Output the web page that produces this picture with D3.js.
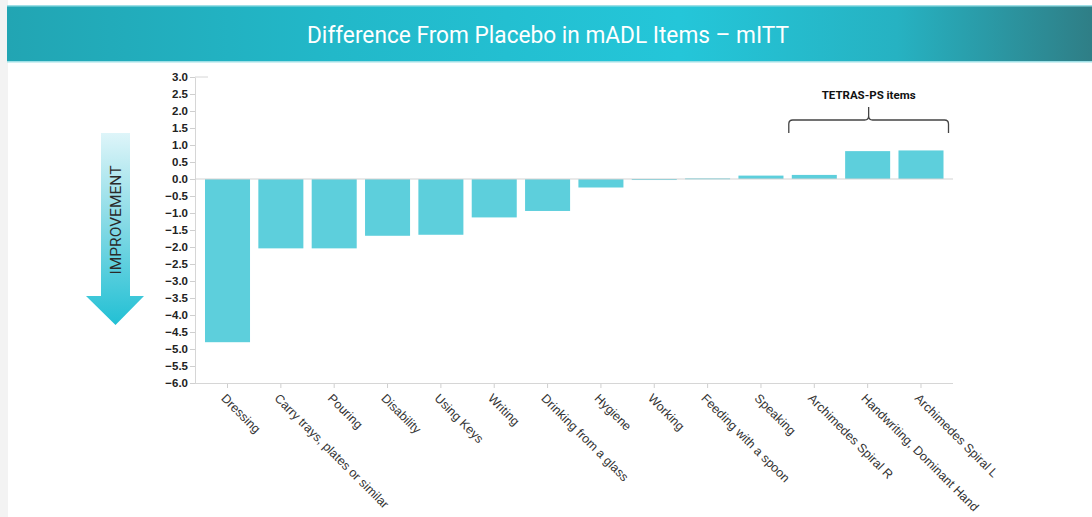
<!DOCTYPE html>
<html>
<head>
<meta charset="utf-8">
<script src="https://cdn.jsdelivr.net/npm/d3@7"></script>
<style>
  html, body { margin: 0; padding: 0; background: #ffffff; }
  svg { display: block; }
</style>
</head>
<body>
<svg id="chart" width="1092" height="517"></svg>
<script>
// mADL item differences from placebo (mITT)
const categories = [
  "Dressing", "Carry trays, plates or similar", "Pouring", "Disability",
  "Using Keys", "Writing", "Drinking from a glass", "Hygiene", "Working",
  "Feeding with a spoon", "Speaking", "Archimedes Spiral R",
  "Handwriting, Dominant Hand", "Archimedes Spiral L"
];
const differences = [-4.80, -2.04, -2.04, -1.67, -1.64, -1.13, -0.94, -0.25, -0.03, 0.02, 0.10, 0.12, 0.82, 0.84];
const yTicks = [3.0, 2.5, 2.0, 1.5, 1.0, 0.5, 0.0, -0.5, -1.0, -1.5, -2.0, -2.5, -3.0, -3.5, -4.0, -4.5, -5.0, -5.5, -6.0];
const tetrasItems = ["Archimedes Spiral R", "Handwriting, Dominant Hand", "Archimedes Spiral L"];

const svg = d3.select("#chart");
const defs = svg.append("defs");

// Page edge shading
svg.append("rect").attr("x", 0).attr("y", 0).attr("width", 8).attr("height", 517).attr("fill", "#f3f3f3");

// Header banner
const hg = defs.append("linearGradient").attr("id", "hdr").attr("x1", "0%").attr("x2", "100%");
hg.append("stop").attr("offset", "0%").attr("stop-color", "#22a5b3");
hg.append("stop").attr("offset", "30%").attr("stop-color", "#22b8c9");
hg.append("stop").attr("offset", "62%").attr("stop-color", "#24c6d9");
hg.append("stop").attr("offset", "82%").attr("stop-color", "#26b2c2");
hg.append("stop").attr("offset", "100%").attr("stop-color", "#2f7e86");
svg.append("rect").attr("x", 7).attr("y", 6).attr("width", 1085).attr("height", 56).attr("fill", "url(#hdr)");
svg.append("rect").attr("x", 7).attr("y", 5).attr("width", 1085).attr("height", 1.5).attr("fill", "#9edfe6");
svg.append("rect").attr("x", 7).attr("y", 61).attr("width", 1085).attr("height", 1.5).attr("fill", "#9edfe6");
svg.append("text")
  .attr("x", 548).attr("y", 43)
  .attr("text-anchor", "middle")
  .attr("fill", "#ffffff")
  .attr("font-family", "Roboto, 'Open Sans', sans-serif")
  .attr("font-size", 23)
  .attr("textLength", 482).attr("lengthAdjust", "spacingAndGlyphs")
  .text("Difference From Placebo in mADL Items \u2013 mITT");

// Scales
const x = d3.scaleBand().domain(categories).range([205, 943.5]).paddingInner(0.156).paddingOuter(0);
const y = d3.scaleLinear().domain([-6, 3]).range([383, 77]);
const plotLeft = 195, plotRight = 953;

// Y axis
const yAxis = svg.append("g").attr("transform", `translate(${plotLeft},0)`)
  .call(d3.axisLeft(y).tickValues(yTicks).tickFormat(d3.format(".1f")).tickSize(5).tickSizeOuter(0));
yAxis.select(".domain").attr("stroke", "#d6d6d6");
yAxis.selectAll(".tick line").attr("stroke", "#cfcfcf");
yAxis.selectAll(".tick text")
  .attr("x", -7)
  .attr("fill", "#222")
  .attr("font-family", "'Liberation Sans', Arial, sans-serif")
  .attr("font-weight", "bold")
  .attr("font-size", 11.5);
// short cap on the top of the axis
svg.append("line").attr("x1", plotLeft).attr("x2", 208).attr("y1", y(3)).attr("y2", y(3)).attr("stroke", "#d6d6d6");

// X axis along the bottom
const xAxis = svg.append("g").attr("transform", `translate(0,${y(-6)})`)
  .call(d3.axisBottom(x).tickSize(5).tickSizeOuter(0));
xAxis.select(".domain").remove();
xAxis.selectAll(".tick line").attr("stroke", "#cfcfcf");
xAxis.selectAll(".tick text")
  .attr("text-anchor", "start")
  .attr("fill", "#333")
  .attr("font-family", "'Liberation Sans', Arial, sans-serif")
  .attr("font-size", 12.5)
  .attr("y", 0).attr("dy", "0.35em")
  .attr("transform", "translate(-4,13) rotate(45)");
svg.append("line")
  .attr("x1", plotLeft).attr("x2", plotRight)
  .attr("y1", y(-6) + 0.5).attr("y2", y(-6) + 0.5)
  .attr("stroke", "#d6d6d6");

// Bars
svg.append("g").selectAll("rect")
  .data(categories.map((c, i) => ({ c, v: differences[i] })))
  .join("rect")
  .attr("x", d => x(d.c))
  .attr("width", x.bandwidth())
  .attr("y", d => y(Math.max(0, d.v)))
  .attr("height", d => Math.max(1, Math.abs(y(d.v) - y(0))))
  .attr("fill", "#5dcfdc");

// Zero line
svg.append("line")
  .attr("x1", plotLeft).attr("x2", plotRight)
  .attr("y1", y(0)).attr("y2", y(0))
  .attr("stroke", "#d4d4d4").attr("stroke-width", 1.2);

// Brace over the TETRAS-PS items
const bx0 = x(tetrasItems[0]) - 3;
const bx1 = x(tetrasItems[tetrasItems.length - 1]) + x.bandwidth() + 5;
const bm = (bx0 + bx1) / 2;
const by = 120, bEnd = 133, bTop = 107, r = 4;
const brace = d3.path();
brace.moveTo(bx0, bEnd);
brace.lineTo(bx0, by + r);
brace.quadraticCurveTo(bx0, by, bx0 + r, by);
brace.lineTo(bm - r, by);
brace.quadraticCurveTo(bm, by, bm, by - r);
brace.lineTo(bm, bTop);
brace.moveTo(bm, by - r);
brace.quadraticCurveTo(bm, by, bm + r, by);
brace.lineTo(bx1 - r, by);
brace.quadraticCurveTo(bx1, by, bx1, by + r);
brace.lineTo(bx1, bEnd);
svg.append("path").attr("d", brace.toString())
  .attr("fill", "none").attr("stroke", "#444").attr("stroke-width", 1.3);
svg.append("text")
  .attr("x", bm).attr("y", 99)
  .attr("text-anchor", "middle")
  .attr("fill", "#111")
  .attr("font-family", "Roboto, sans-serif")
  .attr("font-weight", "bold")
  .attr("font-size", 11.5)
  .text("TETRAS-PS items");

// Improvement arrow
const ag = defs.append("linearGradient").attr("id", "arrowGrad")
  .attr("x1", "0%").attr("x2", "0%").attr("y1", "0%").attr("y2", "100%");
ag.append("stop").attr("offset", "0%").attr("stop-color", "#def5f9");
ag.append("stop").attr("offset", "45%").attr("stop-color", "#8adbe6");
ag.append("stop").attr("offset", "100%").attr("stop-color", "#22c0d4");
const arrow = d3.path();
arrow.moveTo(101, 133);
arrow.lineTo(130, 133);
arrow.lineTo(130, 296);
arrow.lineTo(144, 296);
arrow.lineTo(115.5, 325);
arrow.lineTo(86, 296);
arrow.lineTo(101, 296);
arrow.closePath();
svg.append("path").attr("d", arrow.toString()).attr("fill", "url(#arrowGrad)");
svg.append("text")
  .attr("transform", "translate(121,220) rotate(-90)")
  .attr("text-anchor", "middle")
  .attr("fill", "#2a2a2a")
  .attr("font-family", "Roboto, sans-serif")
  .attr("font-size", 15.5)
  .attr("textLength", 109).attr("lengthAdjust", "spacingAndGlyphs")
  .text("IMPROVEMENT");
</script>
</body>
</html>
